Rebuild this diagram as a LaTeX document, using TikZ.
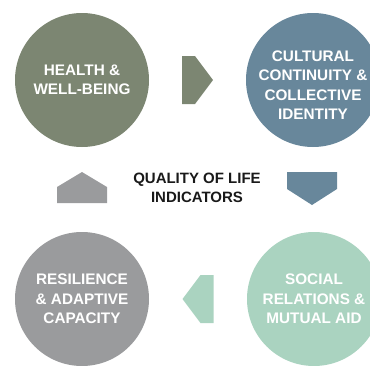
\documentclass[tikz,border=0pt]{standalone}
\usepackage{fontspec}
\setmainfont{Liberation Sans}
\usetikzlibrary{positioning, calc}

\definecolor{sage}{HTML}{7C8672}
\definecolor{slate}{HTML}{68879B}
\definecolor{stone}{HTML}{9A9B9D}
\definecolor{mint}{HTML}{AAD3C0}

\begin{document}
\begin{tikzpicture}[x=1pt,y=-1pt,on grid,
    bubbletext/.style={align=center,text=white,font=\fontsize{15.3}{19.5}\selectfont\bfseries},
    bubble/.style={circle,minimum size=134pt,inner sep=0pt,bubbletext}]
  \useasboundingbox (0,0) rectangle (370,365);
  \clip (0,0) rectangle (370,365);
  % four indicator circles
  \node[bubble,fill=sage] (health) at (82,80) {HEALTH \&\\WELL-BEING};
  \node[bubble,fill=slate,label={[bubbletext,yshift=-5pt]center:{CULTURAL\\CONTINUITY \&\\COLLECTIVE\\IDENTITY}}]
    (culture) [right=231pt of health] {};
  \node[bubble,fill=stone] (resilience) [below=219pt of health] {RESILIENCE\\\& ADAPTIVE\\CAPACITY};
  \node[bubble,fill=mint] (social) [right=232pt of resilience] {SOCIAL\\RELATIONS \&\\MUTUAL AID};
  % centre label
  \node[align=center,font=\fontsize{15}{19.5}\selectfont\bfseries,text=black!90] (qol) at (197,188) {QUALITY OF LIFE\\INDICATORS};
  % arrow shapes between the circles
  \coordinate (toculture) at ($(health)!0.5!(culture)$);
  \coordinate (tosocial) at (312,188.5);
  \coordinate (toresilience) at ($(social)!0.5!(resilience)$);
  \coordinate (tohealth) at (82,187.5);
  \fill[sage] ($(toculture)+(-15.5,-24)$) -- ++(13,0) -- ++(18,24) -- ++(-18,24) -- ++(-13,0) -- cycle;
  \fill[slate] ($(tosocial)+(-25,-16.5)$) -- ++(50,0) -- ++(0,17) -- ++(-25,16) -- ++(-25,-16) -- cycle;
  \fill[mint] ($(toresilience)+(15.5,-24)$) -- ++(-13,0) -- ++(-18,24) -- ++(18,24) -- ++(13,0) -- cycle;
  \fill[stone] ($(tohealth)+(-25,15.5)$) -- ++(50,0) -- ++(0,-16) -- ++(-25,-15) -- ++(-25,15) -- cycle;
\end{tikzpicture}
\end{document}
